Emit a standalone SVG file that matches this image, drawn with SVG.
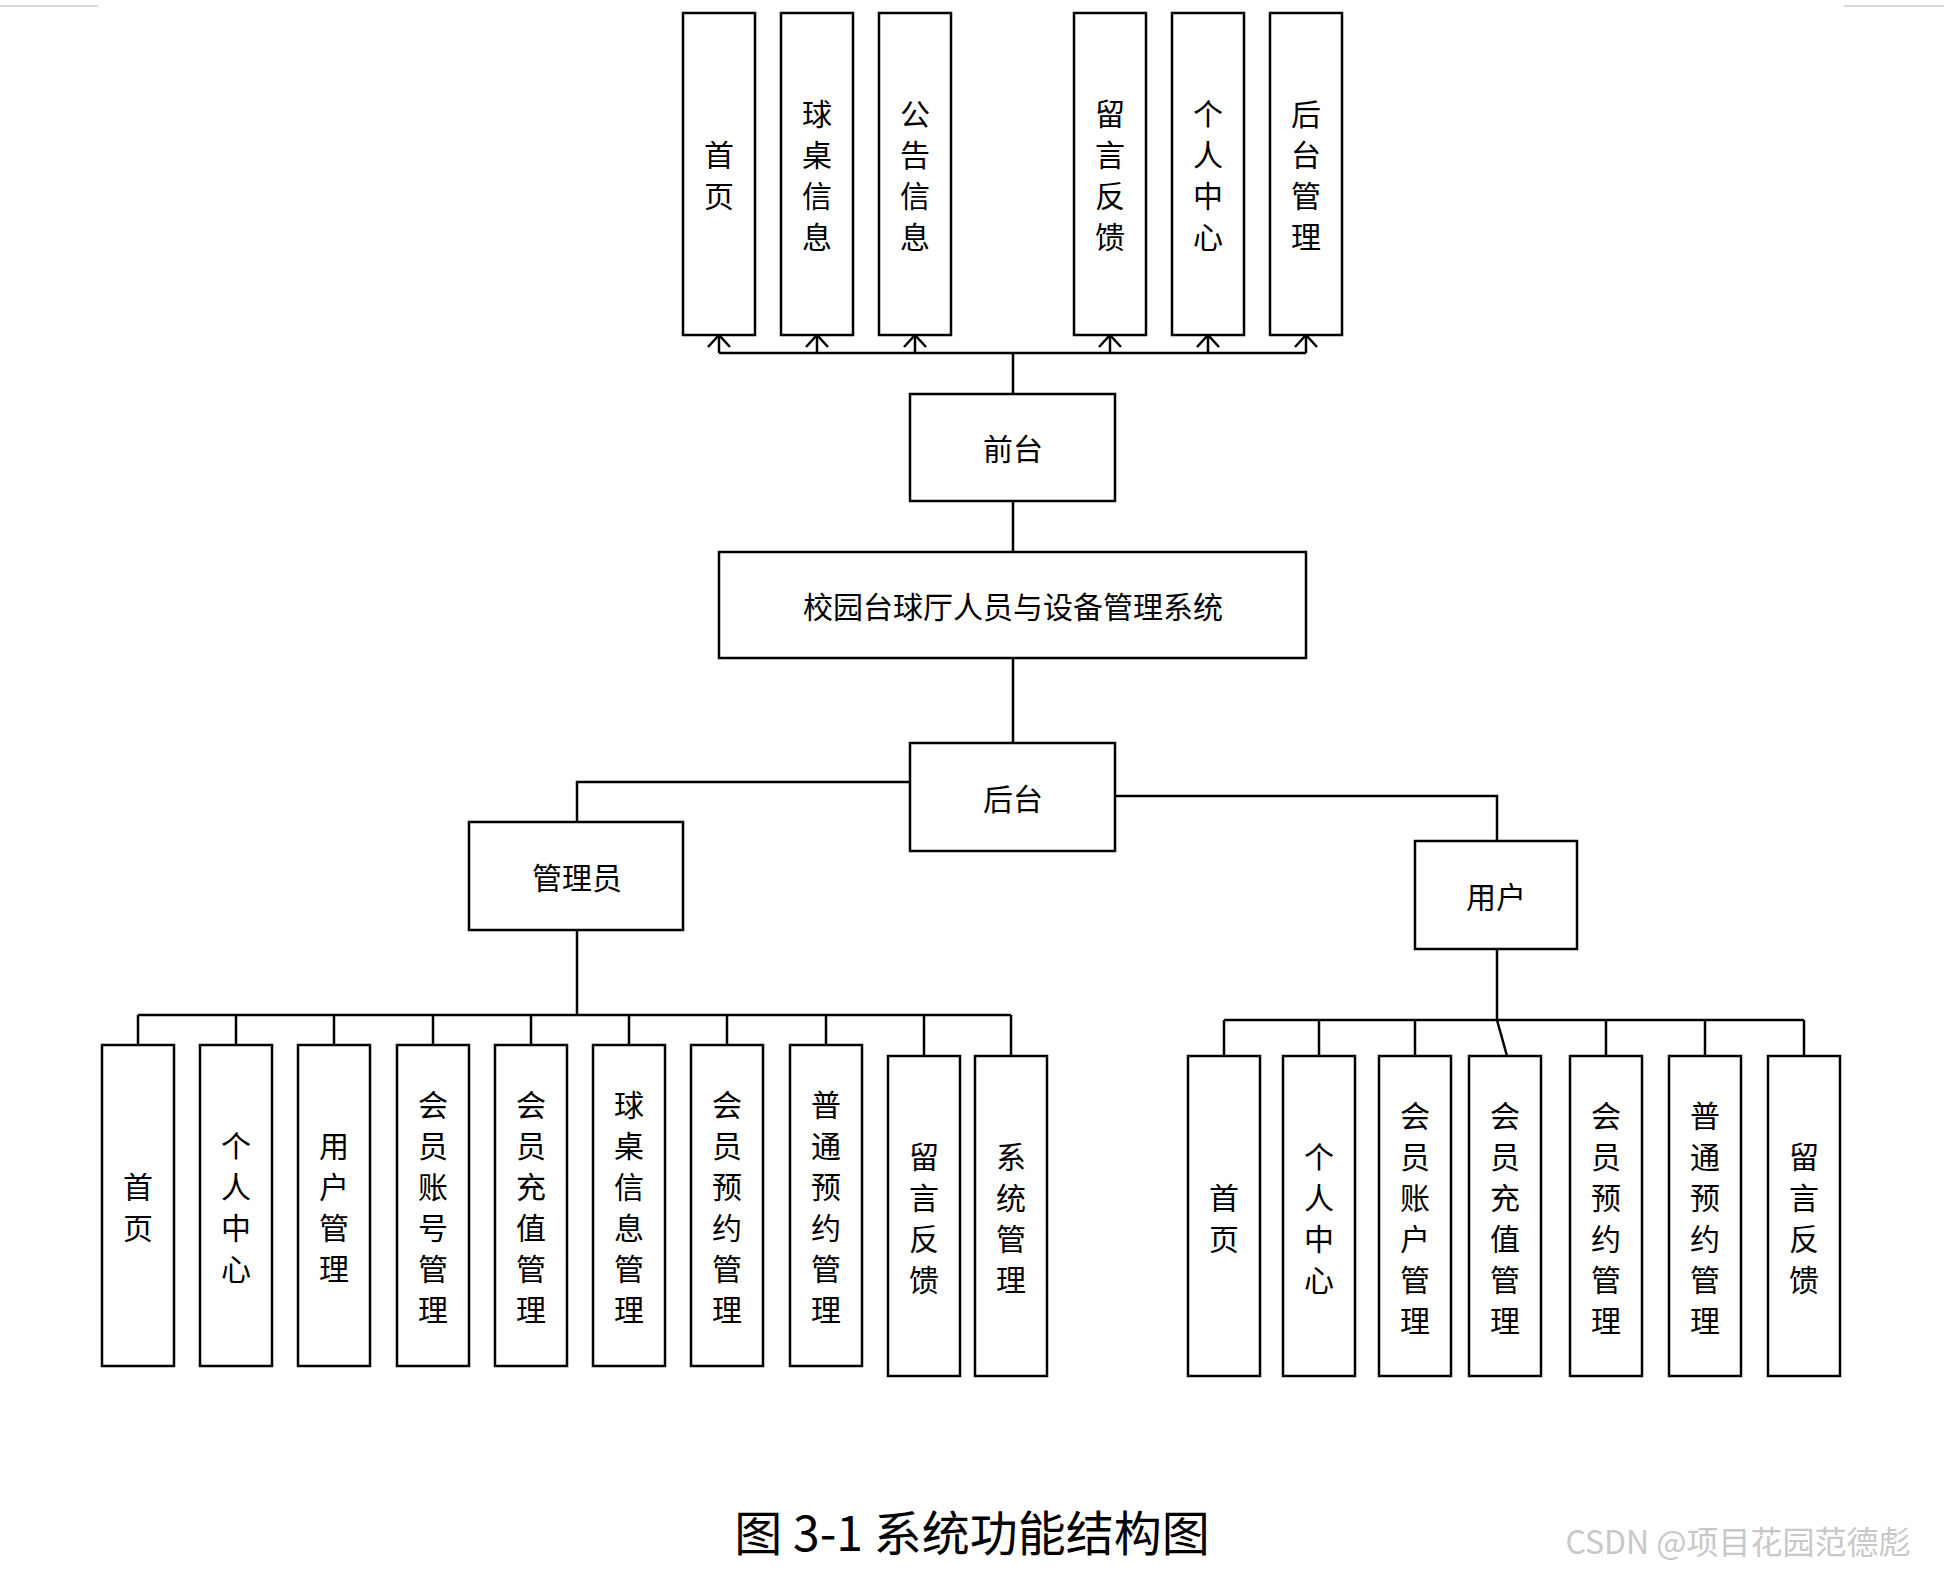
<svg xmlns="http://www.w3.org/2000/svg" width="1944" height="1572" viewBox="0 0 1944 1572">
<style>
rect{fill:#fff;stroke:#000;stroke-width:2.5}
text{font-family:"Noto Sans CJK SC",sans-serif;font-size:30px;fill:#000;text-anchor:middle;dominant-baseline:central}
.c path,.c line{stroke:#000;stroke-width:2.5;fill:none}
</style>
<rect width="1944" height="1572" style="stroke:none"/>
<line x1="0" y1="6" x2="98" y2="6" stroke="#ccc" stroke-width="1.5"/>
<line x1="1844" y1="6" x2="1944" y2="6" stroke="#ccc" stroke-width="1.5"/>
<g class="c" id="connectors">
<path d="M719,353H1306M1013,353V394M1013,501V552M1013,658V743"/>
<path d="M719,353V335M817,353V335M915,353V335M1110,353V335M1208,353V335M1306,353V335"/>
<path d="M708,347L719,335L730,347M806,347L817,335L828,347M904,347L915,335L926,347M1099,347L1110,335L1121,347M1197,347L1208,335L1219,347M1295,347L1306,335L1317,347"/>
<path d="M910,782H577V822M1115,796H1497V841"/>
<path d="M577,930V1015M138,1015H1011M138,1015V1045M236,1015V1045M334,1015V1045M433,1015V1045M531,1015V1045M629,1015V1045M727,1015V1045M826,1015V1045M924,1015V1056M1011,1015V1056"/>
<path d="M1497,949V1020M1224,1020H1804M1224,1020V1056M1319,1020V1056M1415,1020V1056M1497,1020L1507,1056M1606,1020V1056M1705,1020V1056M1804,1020V1056"/>
</g>
<g id="t1"><rect x="683" y="13" width="72" height="322"/><text x="719"><tspan y="152.5">首</tspan><tspan x="719" y="193.5">页</tspan></text></g>
<g id="t2"><rect x="781" y="13" width="72" height="322"/><text x="817"><tspan y="111.5">球</tspan><tspan x="817" y="152.5">桌</tspan><tspan x="817" y="193.5">信</tspan><tspan x="817" y="234.5">息</tspan></text></g>
<g id="t3"><rect x="879" y="13" width="72" height="322"/><text x="915"><tspan y="111.5">公</tspan><tspan x="915" y="152.5">告</tspan><tspan x="915" y="193.5">信</tspan><tspan x="915" y="234.5">息</tspan></text></g>
<g id="t4"><rect x="1074" y="13" width="72" height="322"/><text x="1110"><tspan y="111.5">留</tspan><tspan x="1110" y="152.5">言</tspan><tspan x="1110" y="193.5">反</tspan><tspan x="1110" y="234.5">馈</tspan></text></g>
<g id="t5"><rect x="1172" y="13" width="72" height="322"/><text x="1208"><tspan y="111.5">个</tspan><tspan x="1208" y="152.5">人</tspan><tspan x="1208" y="193.5">中</tspan><tspan x="1208" y="234.5">心</tspan></text></g>
<g id="t6"><rect x="1270" y="13" width="72" height="322"/><text x="1306"><tspan y="111.5">后</tspan><tspan x="1306" y="152.5">台</tspan><tspan x="1306" y="193.5">管</tspan><tspan x="1306" y="234.5">理</tspan></text></g>
<g id="qiantai"><rect x="910" y="394" width="205" height="107"/><text x="1013" y="447">前台</text></g>
<g id="sys"><rect x="719" y="552" width="587" height="106"/><text x="1013" y="605">校园台球厅人员与设备管理系统</text></g>
<g id="houtai"><rect x="910" y="743" width="205" height="108"/><text x="1013" y="797">后台</text></g>
<g id="admin"><rect x="469" y="822" width="214" height="108"/><text x="577" y="876">管理员</text></g>
<g id="user"><rect x="1415" y="841" width="162" height="108"/><text x="1496" y="895">用户</text></g>
<g id="a1"><rect x="102" y="1045" width="72" height="321"/><text x="138"><tspan y="1184.5">首</tspan><tspan x="138" y="1225.5">页</tspan></text></g>
<g id="a2"><rect x="200" y="1045" width="72" height="321"/><text x="236"><tspan y="1143.5">个</tspan><tspan x="236" y="1184.5">人</tspan><tspan x="236" y="1225.5">中</tspan><tspan x="236" y="1266.5">心</tspan></text></g>
<g id="a3"><rect x="298" y="1045" width="72" height="321"/><text x="334"><tspan y="1143.5">用</tspan><tspan x="334" y="1184.5">户</tspan><tspan x="334" y="1225.5">管</tspan><tspan x="334" y="1266.5">理</tspan></text></g>
<g id="a4"><rect x="397" y="1045" width="72" height="321"/><text x="433"><tspan y="1102.5">会</tspan><tspan x="433" y="1143.5">员</tspan><tspan x="433" y="1184.5">账</tspan><tspan x="433" y="1225.5">号</tspan><tspan x="433" y="1266.5">管</tspan><tspan x="433" y="1307.5">理</tspan></text></g>
<g id="a5"><rect x="495" y="1045" width="72" height="321"/><text x="531"><tspan y="1102.5">会</tspan><tspan x="531" y="1143.5">员</tspan><tspan x="531" y="1184.5">充</tspan><tspan x="531" y="1225.5">值</tspan><tspan x="531" y="1266.5">管</tspan><tspan x="531" y="1307.5">理</tspan></text></g>
<g id="a6"><rect x="593" y="1045" width="72" height="321"/><text x="629"><tspan y="1102.5">球</tspan><tspan x="629" y="1143.5">桌</tspan><tspan x="629" y="1184.5">信</tspan><tspan x="629" y="1225.5">息</tspan><tspan x="629" y="1266.5">管</tspan><tspan x="629" y="1307.5">理</tspan></text></g>
<g id="a7"><rect x="691" y="1045" width="72" height="321"/><text x="727"><tspan y="1102.5">会</tspan><tspan x="727" y="1143.5">员</tspan><tspan x="727" y="1184.5">预</tspan><tspan x="727" y="1225.5">约</tspan><tspan x="727" y="1266.5">管</tspan><tspan x="727" y="1307.5">理</tspan></text></g>
<g id="a8"><rect x="790" y="1045" width="72" height="321"/><text x="826"><tspan y="1102.5">普</tspan><tspan x="826" y="1143.5">通</tspan><tspan x="826" y="1184.5">预</tspan><tspan x="826" y="1225.5">约</tspan><tspan x="826" y="1266.5">管</tspan><tspan x="826" y="1307.5">理</tspan></text></g>
<g id="a9"><rect x="888" y="1056" width="72" height="320"/><text x="924"><tspan y="1154.5">留</tspan><tspan x="924" y="1195.5">言</tspan><tspan x="924" y="1236.5">反</tspan><tspan x="924" y="1277.5">馈</tspan></text></g>
<g id="a10"><rect x="975" y="1056" width="72" height="320"/><text x="1011"><tspan y="1154.5">系</tspan><tspan x="1011" y="1195.5">统</tspan><tspan x="1011" y="1236.5">管</tspan><tspan x="1011" y="1277.5">理</tspan></text></g>
<g id="u1"><rect x="1188" y="1056" width="72" height="320"/><text x="1224"><tspan y="1195.5">首</tspan><tspan x="1224" y="1236.5">页</tspan></text></g>
<g id="u2"><rect x="1283" y="1056" width="72" height="320"/><text x="1319"><tspan y="1154.5">个</tspan><tspan x="1319" y="1195.5">人</tspan><tspan x="1319" y="1236.5">中</tspan><tspan x="1319" y="1277.5">心</tspan></text></g>
<g id="u3"><rect x="1379" y="1056" width="72" height="320"/><text x="1415"><tspan y="1113.5">会</tspan><tspan x="1415" y="1154.5">员</tspan><tspan x="1415" y="1195.5">账</tspan><tspan x="1415" y="1236.5">户</tspan><tspan x="1415" y="1277.5">管</tspan><tspan x="1415" y="1318.5">理</tspan></text></g>
<g id="u4"><rect x="1469" y="1056" width="72" height="320"/><text x="1505"><tspan y="1113.5">会</tspan><tspan x="1505" y="1154.5">员</tspan><tspan x="1505" y="1195.5">充</tspan><tspan x="1505" y="1236.5">值</tspan><tspan x="1505" y="1277.5">管</tspan><tspan x="1505" y="1318.5">理</tspan></text></g>
<g id="u5"><rect x="1570" y="1056" width="72" height="320"/><text x="1606"><tspan y="1113.5">会</tspan><tspan x="1606" y="1154.5">员</tspan><tspan x="1606" y="1195.5">预</tspan><tspan x="1606" y="1236.5">约</tspan><tspan x="1606" y="1277.5">管</tspan><tspan x="1606" y="1318.5">理</tspan></text></g>
<g id="u6"><rect x="1669" y="1056" width="72" height="320"/><text x="1705"><tspan y="1113.5">普</tspan><tspan x="1705" y="1154.5">通</tspan><tspan x="1705" y="1195.5">预</tspan><tspan x="1705" y="1236.5">约</tspan><tspan x="1705" y="1277.5">管</tspan><tspan x="1705" y="1318.5">理</tspan></text></g>
<g id="u7"><rect x="1768" y="1056" width="72" height="320"/><text x="1804"><tspan y="1154.5">留</tspan><tspan x="1804" y="1195.5">言</tspan><tspan x="1804" y="1236.5">反</tspan><tspan x="1804" y="1277.5">馈</tspan></text></g>
<text x="972" y="1530" style="font-size:48px">图 3-1 系统功能结构图</text>
<text x="1738" y="1540" style="font-size:32px;fill:#c8c8c8">CSDN @项目花园范德彪</text>
</svg>
